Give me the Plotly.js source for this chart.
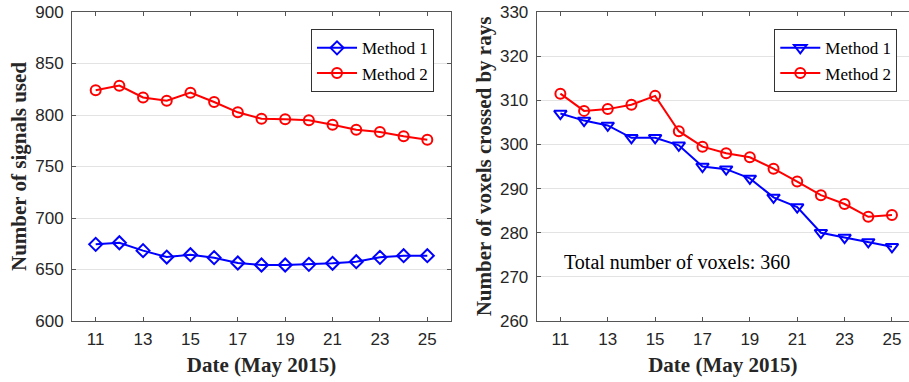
<!DOCTYPE html>
<html>
<head>
<meta charset="utf-8">
<script src="https://cdn.plot.ly/plotly-3.0.1.min.js"></script>
<style>html,body{margin:0;padding:0;background:#fff;}#chart{width:909px;height:382px;}</style>
</head>
<body>
<div id="chart"></div>
<script>
const days = [11,12,13,14,15,16,17,18,19,20,21,22,23,24,25];
const signalsMethod1 = [674.4,676,668.3,662.1,664.4,661.5,656.3,654.4,654.4,655,656,657.6,661.8,663.4,663.4];
const signalsMethod2 = [824,828.5,817,813.9,821.7,812.6,802.6,796.4,795.8,794.8,790.6,785.7,783.5,779.3,776];
const voxelsMethod1 = [307,305.4,304.3,301.5,301.5,299.8,295,294.4,292.3,288,285.8,280,278.9,277.9,276.8];
const voxelsMethod2 = [311.5,307.6,308,309,311,303,299.5,298,297.1,294.5,291.6,288.5,286.5,283.6,284];
const xTicks = [11,13,15,17,19,21,23,25];
const leftYTicks = [600,650,700,750,800,850,900];
const rightYTicks = [260,270,280,290,300,310,320,330];

const blue = '#0000ff', red = '#ff0000';
const serif = "'Liberation Serif', 'Times New Roman', serif";
const tickFont = {family: "'Liberation Sans', Arial, sans-serif", size: 17, color: '#262626'};
const titleFont = {family: serif, size: 21, color: '#262626', weight: 'bold'};
const legFont = {family: serif, size: 17, color: '#000'};

const traces = [
  {x: days, y: signalsMethod1, name: 'Method 1', mode: 'lines+markers', xaxis: 'x', yaxis: 'y', legend: 'legend',
   line: {color: blue, width: 2}, marker: {symbol: 'diamond-open', size: 10, color: blue, line: {width: 2}}},
  {x: days, y: signalsMethod2, name: 'Method 2', mode: 'lines+markers', xaxis: 'x', yaxis: 'y', legend: 'legend',
   line: {color: red, width: 2}, marker: {symbol: 'circle-open', size: 10, color: red, line: {width: 2}}},
  {x: days, y: voxelsMethod1, name: 'Method 1', mode: 'lines+markers', xaxis: 'x2', yaxis: 'y2', legend: 'legend2',
   line: {color: blue, width: 2}, marker: {symbol: 'triangle-down-open', size: 11, color: blue, line: {width: 2}}},
  {x: days, y: voxelsMethod2, name: 'Method 2', mode: 'lines+markers', xaxis: 'x2', yaxis: 'y2', legend: 'legend2',
   line: {color: red, width: 2}, marker: {symbol: 'circle-open', size: 10, color: red, line: {width: 2}}}
];

const axLine = '#555';
function xax(domain, range, anchor) {
  return {domain: domain, range: range, anchor: anchor, tickmode: 'array', tickvals: xTicks,
    ticks: 'inside', ticklen: 4, tickcolor: axLine, showline: true, linecolor: axLine, linewidth: 1,
    mirror: 'ticks', showgrid: false, zeroline: false, tickfont: tickFont, ticklabelstandoff: 3,
    title: {text: 'Date (May 2015)', font: titleFont, standoff: 8}};
}
function yax(range, ticks, title, anchor, mirror) {
  return {range: range, anchor: anchor, tickmode: 'array', tickvals: ticks,
    ticks: 'inside', ticklen: 4, tickcolor: axLine, showline: true, linecolor: axLine, linewidth: 1,
    mirror: mirror, showgrid: true, gridcolor: '#e3e3e3', gridwidth: 1, zeroline: false, tickfont: tickFont,
    ticklabelstandoff: 4,
    title: {text: title, font: titleFont, standoff: 2}};
}
const legendBase = {font: legFont, bgcolor: '#fff', bordercolor: '#333', borderwidth: 1,
  xanchor: 'right', yanchor: 'top', y: 0.944, itemwidth: 40, tracegroupgap: 0};

const layout = {
  width: 909, height: 382,
  margin: {l: 72, r: 0, t: 12, b: 61},
  paper_bgcolor: '#fff', plot_bgcolor: '#fff',
  showlegend: true,
  xaxis: xax([0, 0.4528], [10, 26], 'y'),
  yaxis: yax([600, 900], leftYTicks, 'Number of signals used', 'x', 'ticks'),
  xaxis2: xax([0.5552, 1], [10, 25.72], 'y2'),
  yaxis2: yax([260, 330], rightYTicks, 'Number of voxels crossed by rays', 'x2', false),
  legend: Object.assign({}, legendBase, {x: 0.4325}),
  legend2: Object.assign({}, legendBase, {x: 0.986}),
  annotations: [{xref: 'x2', yref: 'y2', x: 11.07, y: 273.4, xanchor: 'left', yanchor: 'middle',
    text: 'Total number of voxels: 360', showarrow: false,
    font: {family: serif, size: 20, color: '#000'}}]
};

Plotly.newPlot('chart', traces, layout, {displayModeBar: false, staticPlot: true});
</script>
</body>
</html>
